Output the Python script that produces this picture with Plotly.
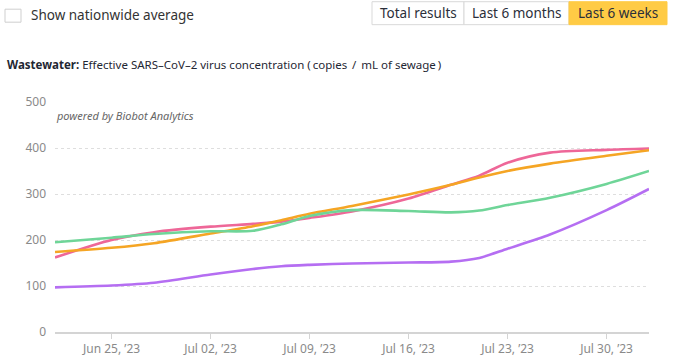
import plotly.graph_objects as go

dates = ["2023-06-21", "2023-06-25", "2023-06-28", "2023-07-02", "2023-07-05",
         "2023-07-07", "2023-07-09", "2023-07-12", "2023-07-16", "2023-07-19",
         "2023-07-21", "2023-07-23", "2023-07-26", "2023-07-30", "2023-08-02"]
pink = [162, 200, 217, 229, 235, 240, 248, 262, 290, 320, 340, 368, 390, 396, 399]
orange = [174, 183, 193, 214, 230, 243, 257, 274, 299, 320, 336, 350, 366, 383, 395]
green = [195, 205, 213, 219, 220, 234, 252, 265, 263, 260, 264, 276, 292, 322, 350]
purple = [97, 101, 107, 125, 137, 143, 146, 149, 151, 153, 161, 181, 212, 265, 311]

series = [("pink", pink, "#EE6798"), ("orange", orange, "#F5A524"),
          ("green", green, "#6FD598"), ("purple", purple, "#B56EF2")]

y_ticks = [0, 100, 200, 300, 400, 500]
x_ticks = ["2023-06-25", "2023-07-02", "2023-07-09", "2023-07-16", "2023-07-23", "2023-07-30"]
x_tick_labels = ["Jun 25, \u201923", "Jul 02, \u201923", "Jul 09, \u201923",
                 "Jul 16, \u201923", "Jul 23, \u201923", "Jul 30, \u201923"]

W, H = 676, 361
L, R, T, B = 55, 649, 102, 332.5
FONT = "Noto Sans"

def px(x):
    return (x - L) / (R - L)

def py(y):
    return (B - y) / (B - T)

fig = go.Figure()
for name, vals, col in series:
    fig.add_trace(go.Scatter(x=dates, y=vals, mode="lines", name=name,
                             line=dict(color=col, width=2.6, shape="spline", smoothing=0.8),
                             hoverinfo="skip"))

shapes = []
annotations = []

# checkbox
shapes.append(dict(type="rect", xref="paper", yref="paper",
                   x0=px(5), x1=px(21), y0=py(22), y1=py(9),
                   line=dict(color="#cfcfcf", width=1), fillcolor="white"))
annotations.append(dict(xref="paper", yref="paper", x=px(29), y=py(14.5),
                        xanchor="left", yanchor="middle", showarrow=False,
                        text="Show nationwide average",
                        font=dict(family=FONT, size=13.5, color="#333")))

# button group
btn_edges = [372, 464, 569, 667]
btn_labels = ["Total results", "Last 6 months", "Last 6 weeks"]
for i, lab in enumerate(btn_labels):
    x0, x1 = btn_edges[i], btn_edges[i + 1]
    shapes.append(dict(type="rect", xref="paper", yref="paper",
                       x0=px(x0), x1=px(x1), y0=py(24.5), y1=py(1.5),
                       line=dict(color="#d9d9d9" if i < 2 else "#FFCB45", width=1),
                       fillcolor="white" if i < 2 else "#FFCB45"))
    annotations.append(dict(xref="paper", yref="paper", x=px((x0 + x1) / 2), y=py(13),
                            xanchor="center", yanchor="middle", showarrow=False,
                            text=lab, font=dict(family=FONT, size=13.5, color="#2b2f3a")))

# title
annotations.append(dict(xref="paper", yref="paper", x=px(5), y=py(64.5),
                        xanchor="left", yanchor="middle", showarrow=False,
                        text="<b>Wastewater:</b> Effective SARS\u2013CoV\u20132 virus concentration (\u2009copies \u2009/\u2009 mL of sewage\u2009)",
                        font=dict(family=FONT, size=11.5, color="#1f2733")))

# watermark
annotations.append(dict(xref="paper", yref="paper", x=px(54), y=py(116),
                        xanchor="left", yanchor="middle", showarrow=False,
                        text="<i>powered by Biobot Analytics</i>",
                        font=dict(family=FONT, size=11, color="#666")))

fig.update_layout(
    width=W, height=H,
    margin=dict(l=L, r=W - R, t=T, b=H - B, pad=0),
    paper_bgcolor="white", plot_bgcolor="white",
    showlegend=False,
    shapes=shapes, annotations=annotations,
    xaxis=dict(type="date", range=["2023-06-21", "2023-08-02"],
               tickvals=x_ticks, ticktext=x_tick_labels,
               showgrid=False, showline=True, linecolor="#d4d4d4", linewidth=2,
               ticks="outside", ticklen=5, tickcolor="#d4d4d4",
               tickfont=dict(family=FONT, size=12, color="#8a8a8a"),
               zeroline=False, fixedrange=True, automargin=False),
    yaxis=dict(range=[0, 500], tickvals=y_ticks,
               showgrid=True, gridcolor="#dedede", griddash="dot", gridwidth=1,
               showline=False, zeroline=False, ticks="",
               ticklabelstandoff=8,
               tickfont=dict(family=FONT, size=12, color="#8a8a8a"),
               fixedrange=True, automargin=False),
)

fig.write_html("out.html", config={"displayModeBar": False},
               post_script="document.body.style.margin='0';document.body.style.overflow='hidden';")
